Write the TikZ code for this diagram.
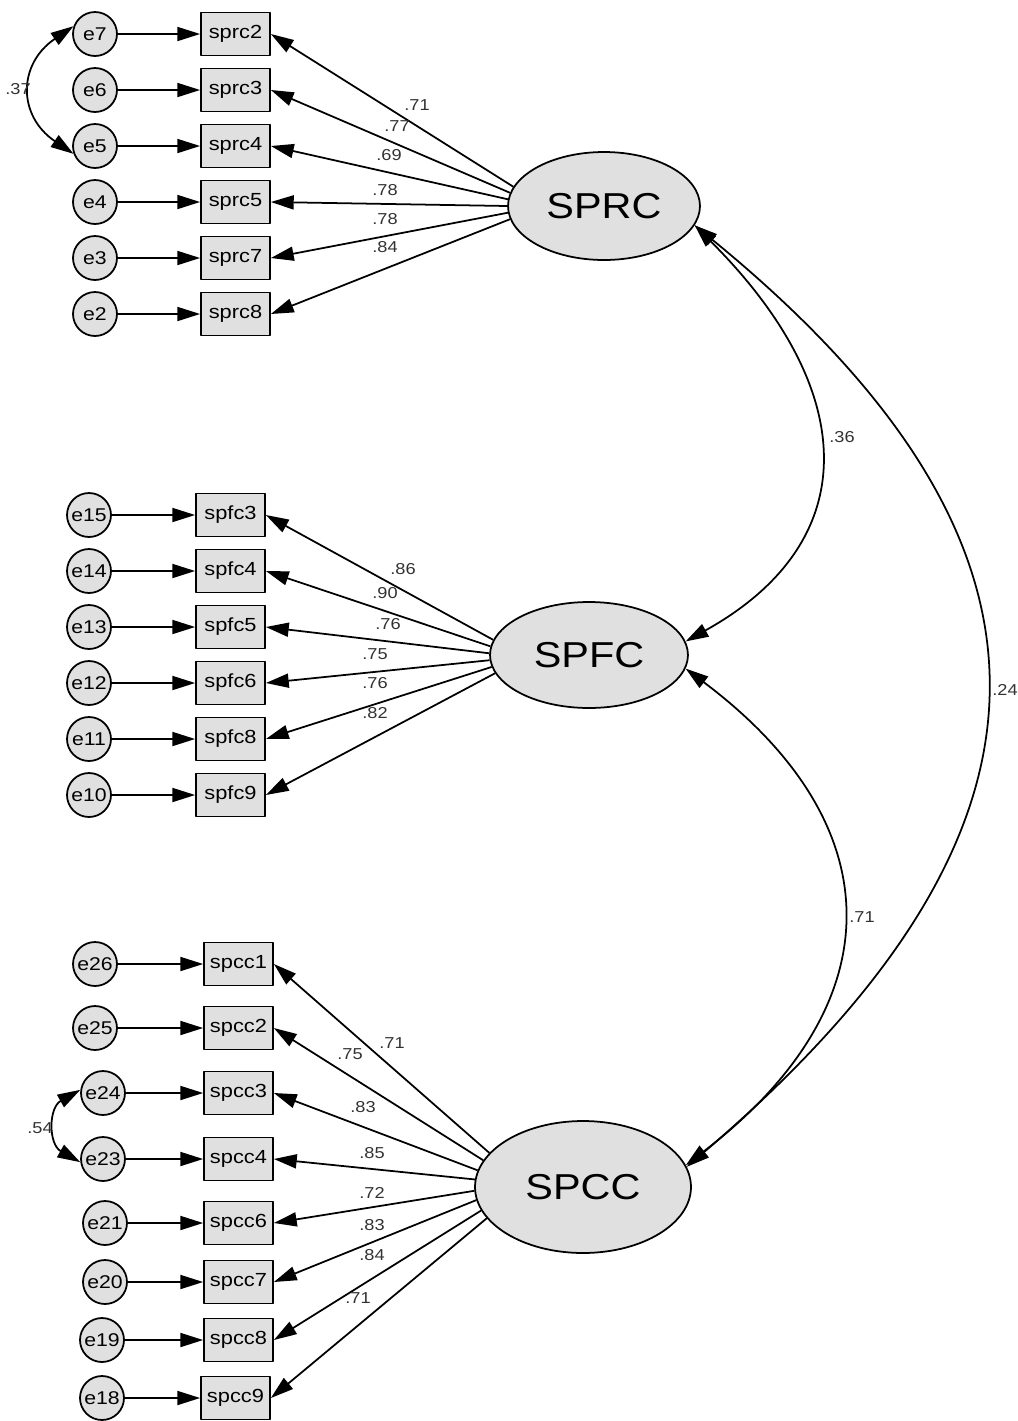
\documentclass[tikz,border=0pt]{standalone}
\usepackage{fontspec}
\newfontfamily\amosfont{Liberation Sans}[FakeStretch=1.15]
\usetikzlibrary{arrows.meta,shapes.geometric}
\definecolor{boxgray}{RGB}{224,224,224}
\definecolor{lblgray}{RGB}{50,50,50}
\begin{document}
\begin{tikzpicture}[x=0.02cm, y=-0.02cm, font=\amosfont, line join=round, line width=1pt,
  >={Triangle[length=13pt,width=8pt]},
  err/.style={circle, draw, fill=boxgray, minimum size=0.88cm, inner sep=0pt, font=\amosfont\fontsize{10.5}{12}\selectfont},
  obs/.style={rectangle, draw, fill=boxgray, minimum width=1.38cm, minimum height=0.86cm, inner sep=0pt, font=\amosfont\fontsize{10.8}{12}\selectfont},
  lat/.style={ellipse, draw, fill=boxgray, inner sep=0pt, font=\amosfont\fontsize{20.5}{24}\selectfont},
  lbl/.style={text=lblgray, inner sep=0pt, font=\amosfont\fontsize{9}{10}\selectfont}]
\useasboundingbox (0,0) rectangle (1018,1421);
% latent factors
\node[lat, minimum width=3.84cm, minimum height=2.16cm] (SPRC) at (604,206) {SPRC};
\node[lat, minimum width=3.96cm, minimum height=2.12cm] (SPFC) at (589,655) {SPFC};
\node[lat, minimum width=4.32cm, minimum height=2.64cm] (SPCC) at (583,1187) {SPCC};
% SPRC items
\foreach \e/\v/\y/\a/\lab/\lx/\ly in {7/2/34/168/.71/417/105, 6/3/90/172/.77/397/126, 5/4/146/176/.69/389/155,
  4/5/202/180/.78/385/190, 3/7/258/184/.78/385/219, 2/8/314/188/.84/385/247}{
  \node[err] (e\e) at (95,\y) {e\e};
  \node[obs] (sprc\v) at (235.5,\y) {sprc\v};
  \draw[->] (e\e) -- (sprc\v);
  \draw[->] (SPRC.\a) -- (sprc\v.east);
  \node[lbl] (w\e) at (\lx,\ly) {\lab};
}
% SPFC items
\foreach \e/\v/\y/\a/\lab/\lx/\ly in {15/3/515/171/.86/403/569, 14/4/571/175/.90/385/593, 13/5/627/179/.76/388/624,
  12/6/683/183/.75/375/654, 11/8/739/187/.76/375/683, 10/9/795/191/.82/375/713}{
  \node[err] (e\e) at (89,\y) {e\e};
  \node[obs] (spfc\v) at (230.5,\y) {spfc\v};
  \draw[->] (e\e) -- (spfc\v);
  \draw[->] (SPFC.\a) -- (spfc\v.east);
  \node[lbl] (w\e) at (\lx,\ly) {\lab};
}
% SPCC items
\foreach \e/\ex/\v/\vx/\y/\a/\lab/\lx/\ly in {26/95/1/238.5/964/160/.71/392/1043, 25/95/2/238.5/1028/165/.75/350/1054,
  24/103/3/238.5/1093/171/.83/363/1107, 23/103/4/238.5/1159/176/.85/372/1153,
  21/105/6/238.5/1223/182/.72/372/1193, 20/105/7/238.5/1282/187/.83/372/1225,
  19/102/8/238.5/1340/193/.84/372/1255, 18/102/9/235.5/1398/198/.71/358/1298}{
  \node[err] (e\e) at (\ex,\y) {e\e};
  \node[obs] (spcc\v) at (\vx,\y) {spcc\v};
  \draw[->] (e\e) -- (spcc\v);
  \draw[->] (SPCC.\a) -- (spcc\v.east);
  \node[lbl] (w\e) at (\lx,\ly) {\lab};
}
% error covariances
\draw[<->] (e7.160) .. controls +(-56,38) and +(-56,-38) .. (e5.200);
\node[lbl] (c75) at (18,89) {.37};
\draw[<->] (e24.172) .. controls +(-32,18) and +(-32,-18) .. (e23.188);
\node[lbl] (c2423) at (40,1128) {.54};
% factor covariances
\draw[<->] (SPRC.-12) .. controls +(165,165) and +(180,-100) .. (SPFC.8);
\node[lbl] (rf) at (842,437) {.36};
\draw[<->] (SPFC.-8) .. controls +(209,157) and +(208,-160) .. (SPCC.12);
\node[lbl] (fc) at (862,917) {.71};
\draw[<->] (SPRC.-12) .. controls +(389,318) and +(397,-339) .. (SPCC.11);
\node[lbl] (rc) at (1005,690) {.24};
\end{tikzpicture}
\end{document}
